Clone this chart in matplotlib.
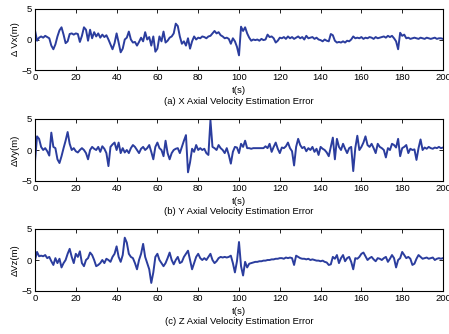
import numpy as np
import matplotlib
matplotlib.use('Agg')
import matplotlib.pyplot as plt

plt.rcParams['font.family'] = ['Liberation Sans', 'DejaVu Sans']

# time grid in seconds (1 s sampling)
t = np.arange(0, 201)

# X axial velocity error
err_x = [1.5, -0.2, 0.3, 0.5, 0.3, 0.6, 0.4, 0.2, -1.0, -1.6,
         -0.8, 0.5, 1.5, 2.0, 0.8, -0.6, -0.3, 0.9, 1.0, 0.8,
         1.0, 0.9, -0.4, 0.6, 2.0, 1.6, -0.2, 1.6, 0.2, 1.2,
         0.5, 1.0, 0.3, 0.8, 0.4, 0.7, 0.0, -0.8, -1.6, -0.6,
         1.0, -0.5, -2.1, -1.5, 0.0, 0.3, 1.3, 0.0, -0.5, -0.4,
         -1.0, -0.4, 0.3, -0.3, 1.2, 0.0, 0.4, -1.0, 0.5, -2.0,
         -1.5, 0.5, -0.3, 1.3, -0.5, -0.2, 0.3, 0.5, 1.0, 2.6,
         2.2, 0.5, -0.7, -0.3, -1.0, 0.2, -1.5, -0.3, 0.5, 0.0,
         0.3, 0.2, 0.5, 0.4, 0.2, 0.5, 0.6, 1.0, 1.4, 1.0,
         1.2, 0.7, 0.5, 0.2, 0.3, 0.1, -0.7, 0.2, -0.3, -1.2,
         -2.6, 2.1, 1.4, 2.0, 1.0, 0.3, -0.2, 0.0, -0.1, 0.0,
         -0.2, 0.1, -0.1, 0.0, 0.8, 0.4, 0.5, 0.2, -0.5, -0.2,
         0.3, 0.2, 0.4, 0.1, 0.5, 0.2, 0.4, 0.1, 0.3, 0.5,
         0.2, 0.4, 0.0, 0.6, 0.2, 0.3, 0.4, 0.1, 0.3, 0.0,
         -0.1, -0.3, 0.0, -0.2, -0.3, 0.9, 0.7, -0.2, -0.5, -0.4,
         -0.5, -0.3, -0.5, -0.2, -0.3, 0.0, 0.5, 0.2, 0.3, 0.2,
         0.4, 0.1, 0.3, 0.2, 0.4, 0.3, 0.1, 0.4, 0.2, 0.3,
         0.4, 0.5, 0.3, 0.6, 0.4, 0.6, 0.2, -0.3, -1.6, 1.1,
         0.6, 0.8, 0.2, 0.3, 0.1, 0.2, 0.3, 0.2, 0.1, 0.3,
         0.2, 0.1, 0.3, 0.2, 0.1, 0.2, 0.3, 0.1, 0.2, 0.2, 0.1]

# Y axial velocity error
err_y = [-1.8, 2.2, 1.8, 0.5, 0.0, 0.3, -0.2, -0.9, 2.8, 0.5,
         0.3, -1.5, -2.1, -1.0, 0.3, 1.5, 2.9, 1.0, 0.0, 0.3,
         -0.2, -0.4, 0.0, 0.3, 0.0, -0.5, -1.5, 0.0, 0.5, 0.2,
         0.0, 0.5, -0.3, 0.6, 0.2, -0.5, -2.6, 0.5, 0.9, 1.2,
         0.0, 1.2, -0.5, 0.3, -0.4, 0.0, -0.5, 0.3, 0.8, 0.5,
         0.0, -0.5, 0.2, 0.5, 0.0, 0.3, 0.8, -0.3, -1.5, 0.5,
         1.2, 0.3, 0.0, -1.0, 1.5, -0.5, -1.5, -0.5, 0.0, 0.2,
         0.3, -0.5, 0.5, 1.5, 2.4, -3.6, -2.0, 0.2, -0.3, 0.8,
         0.0, 0.3, 0.0, 0.2, -0.5, -0.8, 4.8, 0.5, 0.3, 0.0,
         0.8, 0.3, 0.0, -0.5, 0.3, -0.8, -2.2, -0.3, 0.5, 0.4,
         -0.5, 1.0, 0.5, 1.5, 0.3, 0.3, 0.2, 0.3, 0.3, 0.3,
         0.3, 0.3, 0.3, 0.6, 0.3, 1.0, -0.3, 0.5, 1.2, 0.2,
         -0.5, 0.4, 0.3, 0.6, 1.2, 0.3, -0.2, -2.5, 0.5, 1.8,
         0.8, 0.3, 0.5, -0.2, 0.3, 0.0, 0.5, -0.3, 0.2, -0.8,
         0.5, 0.2, 0.0, -0.4, -1.0, 0.5, 2.0, -1.5, 1.8, 0.5,
         0.0, 1.0, 0.2, -0.5, 0.3, 0.5, -3.4, 0.3, 2.3, 0.0,
         0.5, 1.2, 2.2, 0.8, 0.5, 1.0, 0.3, -0.5, 1.0, 0.5,
         0.3, 0.0, -1.2, 0.3, 0.0, 1.0, 0.8, 0.4, 1.8, -1.0,
         0.3, 0.5, 0.8, -0.5, 0.2, 0.0, 0.1, -1.6, 0.3, 1.7,
         0.0, 0.4, 0.2, 0.5, 0.3, 0.2, 0.4, 0.3, 0.5, 0.3, 0.4]

# Z axial velocity error
err_z = [0.0, 1.3, 0.6, 0.7, 0.6, 0.8, 0.3, 0.5, -0.2, -0.8,
         0.3, -0.5, 0.2, -1.2, -0.5, 0.0, 1.0, 1.8, 0.5, -0.5,
         1.0, 0.5, 1.4, -0.5, -1.0, 0.0, 0.3, 1.2, 0.8, 0.0,
         -1.0, -0.8, -0.5, 0.0, -0.5, 0.2, 0.0, -0.3, 0.5, 1.0,
         2.2, 0.5, -0.3, 0.8, 3.6, 2.8, 1.0, 0.5, 0.3, -0.5,
         -1.5, 0.0, 1.0, 2.6, 0.5, -0.5, -1.5, -3.7, -2.0, 0.5,
         1.0, 0.0, -0.5, -1.0, -0.5, 0.3, 1.2, 0.0, -0.7, 0.0,
         0.5, -0.5, -0.3, 0.5, 1.0, 1.5, 0.0, -1.5, -0.5, 0.5,
         1.0, 0.3, 0.0, 0.3, 0.0, 0.5, 1.0, 0.0, -0.5, -0.2,
         0.3, 0.5, 0.4, 0.5, 0.4, 0.5, 0.7, -0.5, -2.0, -0.2,
         2.9, -1.0, -2.5, -0.3, -1.2, -0.6, -0.5, -0.4, -0.3, -0.3,
         -0.2, -0.2, -0.1, -0.1, 0.0, 0.0, 0.1, 0.1, 0.2, 0.2,
         0.3, 0.3, 0.2, 0.4, 0.3, 0.4, 0.3, -0.8, 0.7, 0.5,
         0.3, 0.2, 0.2, 0.1, 0.2, 0.0, 0.1, 0.0, -0.1, -0.1,
         -0.2, -0.1, -0.3, -0.4, -0.8, -0.7, 0.5, 0.2, 0.8, -0.5,
         0.3, 0.8, -0.2, 0.3, 0.5, -0.3, -1.5, 0.3, 0.2, 0.5,
         1.0, 1.2, 0.6, 0.0, 0.3, 0.5, 0.1, -0.2, 0.3, 0.2,
         0.0, 0.3, 0.5, -0.3, 0.2, 0.8, 0.3, -1.2, 0.0, 0.3,
         1.3, 0.8, 0.3, 0.5, 0.2, -0.8, -0.6, 0.2, 0.8, 0.5,
         0.2, 0.3, 0.4, 0.2, 0.3, 0.4, 0.0, 0.2, 0.3, 0.2, 0.3]

series = [err_x, err_y, err_z]
ylabels = ['\u0394 Vx(m)', '\u0394Vy(m)', '\u0394Vz(m)']
captions = ['(a) X Axial Velocity Estimation Error',
            '(b) Y Axial Velocity Estimation Error',
            '(c) Z Axial Velocity Estimation Error']

line_color = '#2b3d9e'
fs = 6.8

fig = plt.figure(figsize=(4.49, 3.34), dpi=100)

boxes = [(9, 70), (119, 181), (229, 291)]
caption_y = [101, 212, 322]
W, H = 449.0, 334.0

for i in range(3):
    top, bot = boxes[i]
    ax = fig.add_axes([35 / W, 1 - bot / H, 408 / W, (bot - top) / H])
    ax.plot(t, series[i], color=line_color, lw=1.4)
    ax.set_xlim(0, 200)
    ax.set_ylim(-5, 5)
    ax.set_xticks([0, 20, 40, 60, 80, 100, 120, 140, 160, 180, 200])
    ax.set_yticks([-5, 0, 5])
    ax.tick_params(direction='in', top=True, right=True, length=3,
                   width=0.6, labelsize=fs, pad=2)
    for s in ax.spines.values():
        s.set_linewidth(0.8)
    ax.set_xlabel('t(s)', fontsize=fs, labelpad=3)
    ax.set_ylabel(ylabels[i], fontsize=fs, labelpad=1)
    fig.text(239 / W, 1 - caption_y[i] / H, captions[i], fontsize=fs,
             ha='center', va='center')

plt.savefig('out.png', dpi=100)
